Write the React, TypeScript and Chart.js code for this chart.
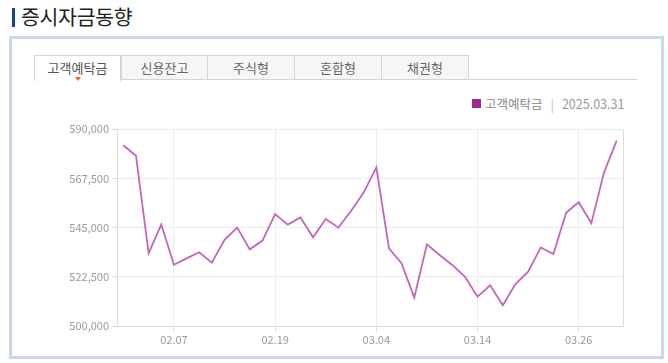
import React, { useEffect, useRef } from "react";
import { Chart, registerables } from "chart.js";

Chart.register(...registerables);

const dates: string[] = [
  "02.03", "02.04", "02.05", "02.06", "02.07", "02.10", "02.11", "02.12", "02.13", "02.14",
  "02.17", "02.18", "02.19", "02.20", "02.21", "02.24", "02.25", "02.26", "02.27", "02.28",
  "03.04", "03.05", "03.06", "03.07", "03.10", "03.11", "03.12", "03.13", "03.14", "03.17",
  "03.18", "03.19", "03.20", "03.21", "03.24", "03.25", "03.26", "03.27", "03.28", "03.31",
];

const deposits: number[] = [
  582600, 577800, 533400, 546400, 528100, 531000, 533800, 529000, 539400, 545000,
  535100, 539100, 551200, 546400, 549600, 540600, 548900, 545000, 552600, 561000,
  572500, 535600, 528700, 513100, 537400, 532500, 528000, 522700, 513500, 518700,
  509600, 519300, 524900, 536000, 533000, 551800, 556600, 547000, 570100, 584700,
];

const yTicks: number[] = [500000, 522500, 545000, 567500, 590000];
const tabs: string[] = ["고객예탁금", "신용잔고", "주식형", "혼합형", "채권형"];

const FONT = "'Noto Sans CJK KR', 'DejaVu Sans', sans-serif";

export default function App() {
  const ref = useRef<HTMLCanvasElement | null>(null);

  useEffect(() => {
    if (!ref.current) return;
    const rightBorder = {
      id: "rightBorder",
      afterDraw(chart: any) {
        const { ctx, chartArea } = chart;
        ctx.save();
        ctx.strokeStyle = "#dcdcdc";
        ctx.lineWidth = 1;
        ctx.beginPath();
        ctx.moveTo(Math.round(chartArea.right) + 0.5, chartArea.top);
        ctx.lineTo(Math.round(chartArea.right) + 0.5, chartArea.bottom);
        ctx.stroke();
        ctx.restore();
      },
    };
    const chart = new Chart(ref.current, {
      type: "line",
      data: {
        labels: dates,
        datasets: [
          {
            label: "고객예탁금",
            data: deposits,
            borderColor: "#c466b8",
            borderWidth: 1.8,
            pointRadius: 0,
            tension: 0,
            fill: false,
          },
        ],
      },
      options: {
        animation: false,
        responsive: false,
        maintainAspectRatio: false,
        layout: { padding: { top: 19, right: 45, left: 0, bottom: 0 } },
        plugins: { legend: { display: false }, tooltip: { enabled: false } },
        scales: {
          x: {
            offset: true,
            grid: {
              color: (c: any) => (c.index % 8 === 4 ? "#ececec" : "transparent"),
              tickColor: (c: any) => (c.index % 8 === 4 ? "#dcdcdc" : "transparent"),
              tickLength: 5,
            },
            border: { color: "#dcdcdc" },
            ticks: {
              autoSkip: false,
              maxRotation: 0,
              color: "#999",
              font: { family: FONT, size: 11 },
              padding: 2,
              callback: (_v: any, i: number) => (i % 8 === 4 ? dates[i] : ""),
            },
            afterFit: (s: any) => {
              s.height = 33.7;
            },
          },
          y: {
            min: yTicks[0],
            max: yTicks[yTicks.length - 1],
            afterBuildTicks: (s: any) => {
              s.ticks = yTicks.map((v) => ({ value: v }));
            },
            grid: { color: "#ececec", tickColor: "#dcdcdc", tickLength: 5 },
            border: { color: "#dcdcdc" },
            ticks: {
              color: "#999",
              font: { family: FONT, size: 11 },
              padding: 3,
              callback: (v: any) => Number(v).toLocaleString("en-US"),
            },
            afterFit: (s: any) => {
              s.width = 117;
            },
          },
        },
      },
      plugins: [rightBorder],
    });
    return () => chart.destroy();
  }, []);

  const tabLeft = 34;
  const tabW = 87;

  return (
    <div style={{ position: "fixed", left: 0, top: 0, width: 668, height: 363, background: "#fff", fontFamily: FONT, overflow: "hidden" }}>
      <div style={{ position: "absolute", left: 12, top: 8, width: 3, height: 19, background: "#1c3f94" }} />
      <div style={{ position: "absolute", left: 21, top: 2, fontSize: 20.5, color: "#222", lineHeight: "29px", letterSpacing: -0.3 }}>증시자금동향</div>
      <div style={{ position: "absolute", left: 9, top: 36, width: 655, height: 323, boxSizing: "border-box", border: "3px solid #c8d9ec" }} />
      {tabs.map((t, i) => (
        <div
          key={t}
          style={{
            position: "absolute",
            left: tabLeft + i * tabW,
            top: 55,
            width: tabW,
            height: i === 0 ? 26 : 25,
            boxSizing: "border-box",
            border: "1px solid #d4d4d4",
            borderBottom: i === 0 ? "none" : "1px solid #d4d4d4",
            borderLeft: i === 0 || i === 1 ? "1px solid #d4d4d4" : "none",
            background: i === 0 ? "#fff" : "#f6f6f6",
            color: i === 0 ? "#555" : "#666",
            fontSize: 13,
            textAlign: "center",
            lineHeight: "23px",
          }}
        >
          {t}
        </div>
      ))}
      <div style={{ position: "absolute", left: tabLeft + 5 * tabW, top: 79, width: 637 - (tabLeft + 5 * tabW), height: 1, background: "#d4d4d4" }} />
      <div style={{ position: "absolute", left: 75, top: 77, width: 0, height: 0, borderLeft: "3.5px solid transparent", borderRight: "3.5px solid transparent", borderTop: "4px solid #f26522" }} />
      <div style={{ position: "absolute", left: 472, top: 99, width: 9, height: 9, background: "#9e2a8e" }} />
      <div style={{ position: "absolute", left: 485, top: 95, fontSize: 12.5, color: "#888", lineHeight: "17px", whiteSpace: "nowrap" }}>
        고객예탁금
        <span style={{ color: "#a9c1de", margin: "0 8px" }}>|</span>
        <span style={{ color: "#999" }}>2025.03.31</span>
      </div>
      <canvas ref={ref} width={668} height={250} style={{ position: "absolute", left: 0, top: 110, width: 668, height: 250 }} />
    </div>
  );
}
